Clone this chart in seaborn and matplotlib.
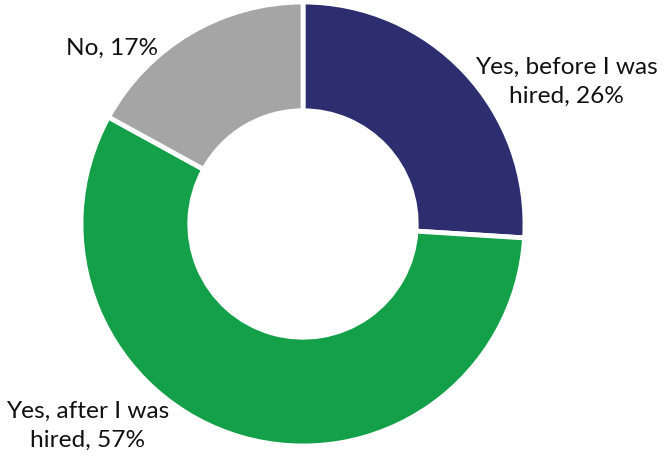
import matplotlib
matplotlib.use("Agg")
import matplotlib.pyplot as plt
import seaborn as sns

# Survey answers and their shares (%)
categories = ["Yes, before I was\nhired", "Yes, after I was\nhired", "No"]
shares = [26, 57, 17]
colors = ["#2C2E6F", "#13A048", "#A5A5A5"]

sns.set_theme(style="white")
plt.rcParams["font.family"] = ["Lato", "DejaVu Sans"]

fig = plt.figure(figsize=(6.71, 4.60), dpi=100)
ax = fig.add_axes([0, 0, 1, 1])

SCALE = 222.0  # pixels per unit radius

wedges, _ = ax.pie(
    shares,
    colors=colors,
    startangle=90,
    counterclock=False,
    radius=1.0,
    wedgeprops=dict(width=0.49, edgecolor="white", linewidth=3.5),
)

# Label placement (data coords, ring radius = 1)
label_pos = [(263 / SCALE, 143 / SCALE), (-215 / SCALE, -201 / SCALE),
             (-191 / SCALE, 177 / SCALE)]
for name, val, (x, y) in zip(categories, shares, label_pos):
    ax.text(x, y, f"{name}, {val}%", ha="center", va="center",
            fontsize=17.6, color="#111111", linespacing=1.5)

ax.set_xlim(-303 / SCALE, 368 / SCALE)
ax.set_ylim(-235 / SCALE, 225 / SCALE)
ax.set_aspect("auto")
ax.axis("off")

fig.savefig("out.png", dpi=100, facecolor="white")
